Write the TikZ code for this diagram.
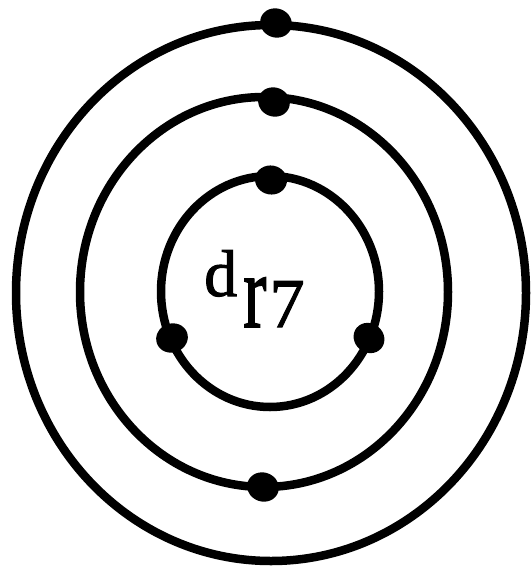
\documentclass[tikz,border=0pt]{standalone}
\usepackage{fontspec}
\setmainfont{Liberation Serif}
\newfontfamily\thickserif[FakeBold=1.5]{Liberation Serif}
\usetikzlibrary{shapes.geometric}
\begin{document}
\begin{tikzpicture}[x=1pt,y=-1pt,
  orbit/.style={draw=black,line width=8.5pt},
  electron/.style={ellipse,fill=black,inner sep=0pt,minimum width=32pt,minimum height=29pt},
  lbl/.style={inner sep=0pt}]
\useasboundingbox (0,0) rectangle (531,570);
\draw[orbit] (271,293) ellipse [x radius=255, y radius=268];
\draw[orbit] (264,292) ellipse [x radius=184, y radius=195];
\draw[orbit] (270,291.5) ellipse [x radius=109, y radius=115.5];
\node[electron,rotate=-20] (e1) at (276,23) {};
\node[electron,rotate=-20] (e2) at (274,102) {};
\node[electron,rotate=-10] (e3) at (271,180) {};
\node[electron,rotate=20] (e4) at (172,338) {};
\node[electron,rotate=-40] (e5) at (369,338) {};
\node[electron,rotate=-20] (e6) at (263,487) {};
\node[lbl,anchor=base west,font=\thickserif\fontsize{66}{66}\selectfont] (d) at (204,296) {d};
\node[lbl,anchor=base west,font=\thickserif\fontsize{70}{70}\selectfont] (r) at (243,327) {\scalebox{1}[1.5]{r}\kern3pt 7};
\end{tikzpicture}
\end{document}
